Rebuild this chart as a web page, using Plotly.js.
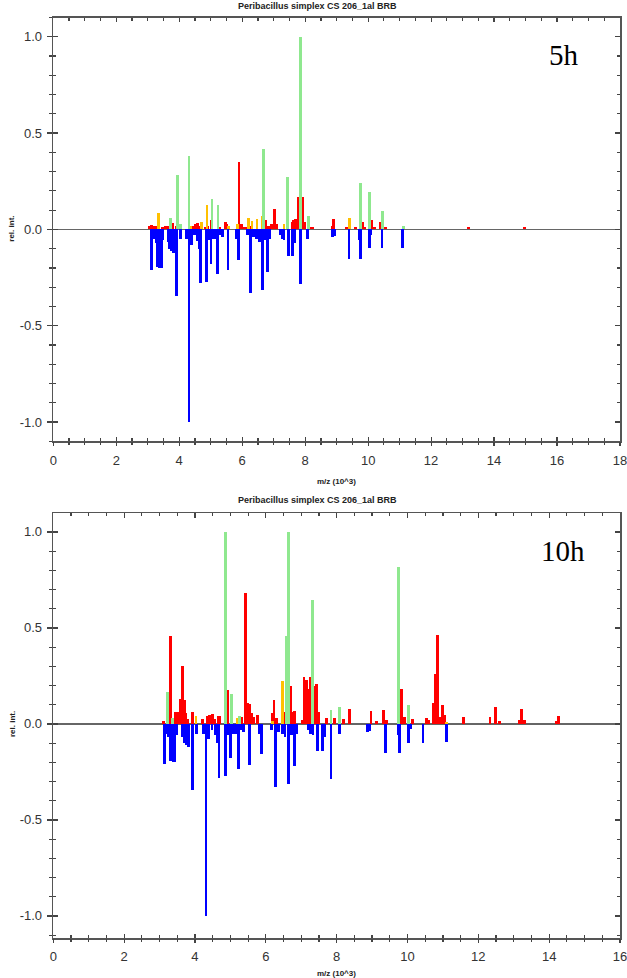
<!DOCTYPE html>
<html><head><meta charset="utf-8">
<script src="https://cdn.plot.ly/plotly-3.0.1.min.js"></script>
<style>html,body{margin:0;padding:0;background:#fff}#chart{width:627px;height:978px}</style>
</head><body><div id="chart"></div>
<script>
// Shared reference (database) spectrum, drawn downward (blue)
const blueMz  = [3.13,3.20,3.26,3.32,3.38,3.43,3.48,3.65,3.70,3.75,3.81,3.92,4.05,4.24,4.31,4.38,4.48,4.59,4.63,4.68,4.87,4.94,5.01,5.08,5.17,5.22,5.29,5.38,5.55,5.83,5.88,6.16,6.27,6.35,6.46,6.54,6.64,6.73,6.80,6.86,7.20,7.27,7.33,7.46,7.59,7.65,7.84,8.08,8.87,8.93,9.39,9.73,9.77,10.04,10.09,10.44,11.10];
const blueInt = [-0.21,-0.05,-0.07,-0.195,-0.2,-0.2,-0.056,-0.066,-0.10,-0.11,-0.12,-0.345,-0.05,-0.05,-1.0,-0.08,-0.03,-0.06,-0.10,-0.28,-0.272,-0.056,-0.18,-0.05,-0.05,-0.233,-0.03,-0.04,-0.213,-0.05,-0.157,-0.03,-0.328,-0.04,-0.05,-0.066,-0.314,-0.056,-0.22,-0.05,-0.03,-0.05,-0.056,-0.14,-0.14,-0.07,-0.286,-0.05,-0.04,-0.035,-0.153,-0.056,-0.153,-0.098,-0.028,-0.098,-0.094];

// 5h sample spectrum
const red5Mz  = [3.06,3.12,3.18,3.25,3.47,3.55,3.63,3.80,3.91,4.46,4.52,4.58,4.66,4.82,4.91,5.03,5.29,5.46,5.50,5.90,5.97,6.02,6.10,6.24,6.73,6.84,6.92,7.02,7.09,7.58,7.63,7.70,7.78,7.91,7.97,8.15,8.22,8.85,8.89,9.30,9.36,9.60,9.83,9.88,10.12,10.19,10.38,10.54,13.19,14.97];
const red5Int = [0.02,0.025,0.02,0.02,0.015,0.02,0.02,0.035,0.02,0.02,0.03,0.035,0.02,0.015,0.02,0.05,0.015,0.04,0.03,0.351,0.03,0.015,0.01,0.02,0.05,0.02,0.03,0.104,0.03,0.04,0.05,0.055,0.17,0.17,0.04,0.01,0.01,0.02,0.052,0.015,0.015,0.01,0.04,0.015,0.05,0.015,0.04,0.015,0.01,0.01];
const yellow5Mz  = [3.33,4.35,4.70,4.88,5.56,5.84,6.20,6.31,6.47,6.63,7.33,9.40];
const yellow5Int = [0.083,0.02,0.04,0.129,0.02,0.03,0.06,0.045,0.055,0.07,0.03,0.06];
const green5Mz  = [3.72,3.95,4.04,4.31,5.04,5.23,6.67,7.45,7.86,8.10,9.77,10.04,10.45,11.12];
const green5Int = [0.06,0.283,0.03,0.379,0.156,0.129,0.417,0.271,1.0,0.07,0.242,0.195,0.097,0.02];

// 10h sample spectrum
const red10Mz  = [3.10,3.27,3.31,3.46,3.51,3.59,3.65,3.70,3.74,3.80,3.92,4.21,4.36,4.42,4.49,4.56,4.65,4.70,4.93,5.25,5.31,5.42,5.48,5.53,5.59,5.65,5.76,6.18,6.23,6.29,6.52,6.70,6.76,6.82,7.02,7.08,7.14,7.19,7.25,7.38,7.44,7.50,7.72,7.95,8.20,8.37,8.97,9.12,9.33,9.40,9.82,9.88,9.93,10.13,10.54,10.60,10.73,10.78,10.84,10.90,11.00,11.05,11.57,12.33,12.48,12.59,13.15,13.22,13.31,14.20,14.26];
const red10Int = [0.014,0.10,0.456,0.06,0.06,0.13,0.30,0.125,0.056,0.028,0.06,0.028,0.04,0.047,0.05,0.028,0.04,0.04,0.178,0.035,0.035,0.683,0.108,0.105,0.056,0.035,0.049,0.056,0.122,0.03,0.063,0.20,0.063,0.066,0.02,0.244,0.23,0.18,0.244,0.20,0.21,0.06,0.03,0.03,0.028,0.077,0.066,0.017,0.07,0.02,0.18,0.038,0.038,0.024,0.031,0.02,0.11,0.26,0.463,0.038,0.10,0.045,0.035,0.038,0.087,0.017,0.02,0.077,0.02,0.017,0.042];
const yellow10Mz  = [4.03,5.19,6.20,6.47,11.10];
const yellow10Int = [0.04,0.03,0.017,0.223,0.012];
const green10Mz  = [3.22,3.37,4.87,5.02,5.25,6.59,6.64,7.32,7.84,8.08,9.75,10.04];
const green10Int = [0.164,0.03,1.0,0.157,0.04,0.46,1.0,0.645,0.073,0.087,0.819,0.098];

const yTickVals = [-1.0,-0.5,0.0,0.5,1.0];
const yTickText = ['-1.0','-0.5','0.0','0.5','1.0'];
const titleText = 'Peribacillus simplex CS 206_1al BRB';
const xTitleText = 'm/z (10^3)';
const yTitleText = 'rel. int.';
const label1 = '5h', label2 = '10h';

const C = {red:'#ff0000', yellow:'#ffc000', green:'#8fe88f', blue:'#0000ff'};
function bars(x, y, color, xa, ya, w){
  return {type:'bar', x:x, y:y, width:w, marker:{color:color, line:{width:0}}, xaxis:xa, yaxis:ya, hoverinfo:'x+y', showlegend:false};
}
const data = [
  bars(blueMz, blueInt, C.blue, 'x', 'y', 0.09),
  bars(red5Mz, red5Int, C.red, 'x', 'y', 0.09),
  bars(yellow5Mz, yellow5Int, C.yellow, 'x', 'y', 0.09),
  bars(green5Mz, green5Int, C.green, 'x', 'y', 0.09),
  bars(blueMz, blueInt, C.blue, 'x2', 'y2', 0.08),
  bars(red10Mz, red10Int, C.red, 'x2', 'y2', 0.08),
  bars(yellow10Mz, yellow10Int, C.yellow, 'x2', 'y2', 0.08),
  bars(green10Mz, green10Int, C.green, 'x2', 'y2', 0.08),
  {type:'scatter', x:[], y:[], xaxis:'x3', yaxis:'y3', hoverinfo:'skip', showlegend:false},
  {type:'scatter', x:[], y:[], xaxis:'x4', yaxis:'y4', hoverinfo:'skip', showlegend:false}
];

const H = 978, W = 627;
const xDom = [53.3/W, 620/W];
const yDom1 = [1-441.3/H, 1-17.5/H];
const yDom2 = [1-938/H, 1-513.3/H];
const yRange1 = [-1.1, 1.1];
const yRange2 = [-1.115, 1.097];
const tickFont = {family:'Liberation Sans, Arial, sans-serif', size:13, color:'#333'};
const axCol = '#555', tkCol = '#444';

function mainX(dom, anchor, maxX){
  return {domain:dom, anchor:anchor, range:[0,maxX], tickmode:'linear', tick0:0, dtick:2,
    ticks:'inside', ticklen:4.5, tickwidth:1.2, tickcolor:tkCol, showline:true, linecolor:axCol, linewidth:1.6,
    mirror:'ticks', showgrid:false, zeroline:false, tickfont:tickFont, ticklabelstandoff:6,
    ticklabeloverflow:'allow', fixedrange:true,
    minor:{tickmode:'linear', tick0:0, dtick:0.5, ticks:'inside', ticklen:3, tickwidth:1.2, tickcolor:tkCol, showgrid:false}};
}
function overX(over, anchor, maxX){
  return {overlaying:over, anchor:anchor, range:[0,maxX], tickmode:'linear', tick0:0, dtick:2,
    ticks:'outside', ticklen:4, tickwidth:1.2, tickcolor:tkCol, showline:false, showticklabels:false,
    showgrid:false, zeroline:false, fixedrange:true,
    minor:{tickmode:'linear', tick0:0, dtick:0.5, ticks:'outside', ticklen:2.5, tickwidth:1.2, tickcolor:tkCol, showgrid:false}};
}
function mainY(dom, anchor, rng){
  return {domain:dom, anchor:anchor, range:rng, tickmode:'array', tickvals:yTickVals, ticktext:yTickText,
    ticks:'inside', ticklen:5, tickwidth:1.2, tickcolor:tkCol, showline:true, linecolor:axCol, linewidth:1.6,
    mirror:'ticks', showgrid:false, zeroline:true, zerolinecolor:'#666', zerolinewidth:1.5,
    tickfont:tickFont, ticklabelstandoff:7, ticklabeloverflow:'allow', fixedrange:true,
    minor:{tickmode:'linear', tick0:0, dtick:0.1, ticks:'inside', ticklen:3, tickwidth:1.2, tickcolor:tkCol, showgrid:false}};
}
function overY(over, anchor, rng){
  return {overlaying:over, anchor:anchor, side:'left', range:rng, tickmode:'array', tickvals:yTickVals,
    ticks:'outside', ticklen:5, tickwidth:1.2, tickcolor:tkCol, showline:false, showticklabels:false,
    showgrid:false, zeroline:false, fixedrange:true,
    minor:{tickmode:'linear', tick0:0, dtick:0.1, ticks:'outside', ticklen:3, tickwidth:1.2, tickcolor:tkCol, showgrid:false}};
}

function ann(text, x, y, font, extra){
  return Object.assign({text:text, x:x, y:y, xref:'paper', yref:'paper', showarrow:false,
    xanchor:'center', yanchor:'middle', font:font}, extra||{});
}
const smallBold = {family:'Liberation Sans, Arial, sans-serif', size:9, color:'#222'};
const tinyBold = {family:'Liberation Sans, Arial, sans-serif', size:8, color:'#222'};
const serif = {family:'Liberation Serif, Times New Roman, serif', size:29, color:'#000'};
const xc = (53.3+620)/2/W;

const layout = {
  width:W, height:H, margin:{l:0,r:0,t:0,b:0}, paper_bgcolor:'#fff', plot_bgcolor:'#fff',
  barmode:'overlay', bargap:0, showlegend:false,
  xaxis: mainX(xDom, 'y', 18),
  yaxis: mainY(yDom1, 'x', yRange1),
  xaxis2: mainX(xDom, 'y2', 16),
  yaxis2: mainY(yDom2, 'x2', yRange2),
  xaxis3: overX('x', 'y3', 18),
  yaxis3: overY('y', 'x3', yRange1),
  xaxis4: overX('x2', 'y4', 16),
  yaxis4: overY('y2', 'x4', yRange2),
  annotations:[
    ann('<b>'+titleText+'</b>', 317/W, 1-6/H, smallBold),
    ann('<b>'+titleText+'</b>', 317/W, 1-500/H, smallBold),
    ann('<b>'+xTitleText+'</b>', xc, 1-481/H, tinyBold),
    ann('<b>'+xTitleText+'</b>', xc, 1-973/H, tinyBold),
    ann('<b>'+yTitleText+'</b>', 12/W, 1-228.7/H, tinyBold, {textangle:-90}),
    ann('<b>'+yTitleText+'</b>', 12/W, 1-724/H, tinyBold, {textangle:-90}),
    ann(label1, 564/W, 1-55/H, serif),
    ann(label2, 563/W, 1-551/H, serif)
  ]
};
Plotly.newPlot('chart', data, layout, {displayModeBar:false, staticPlot:true});
</script>
</body></html>
